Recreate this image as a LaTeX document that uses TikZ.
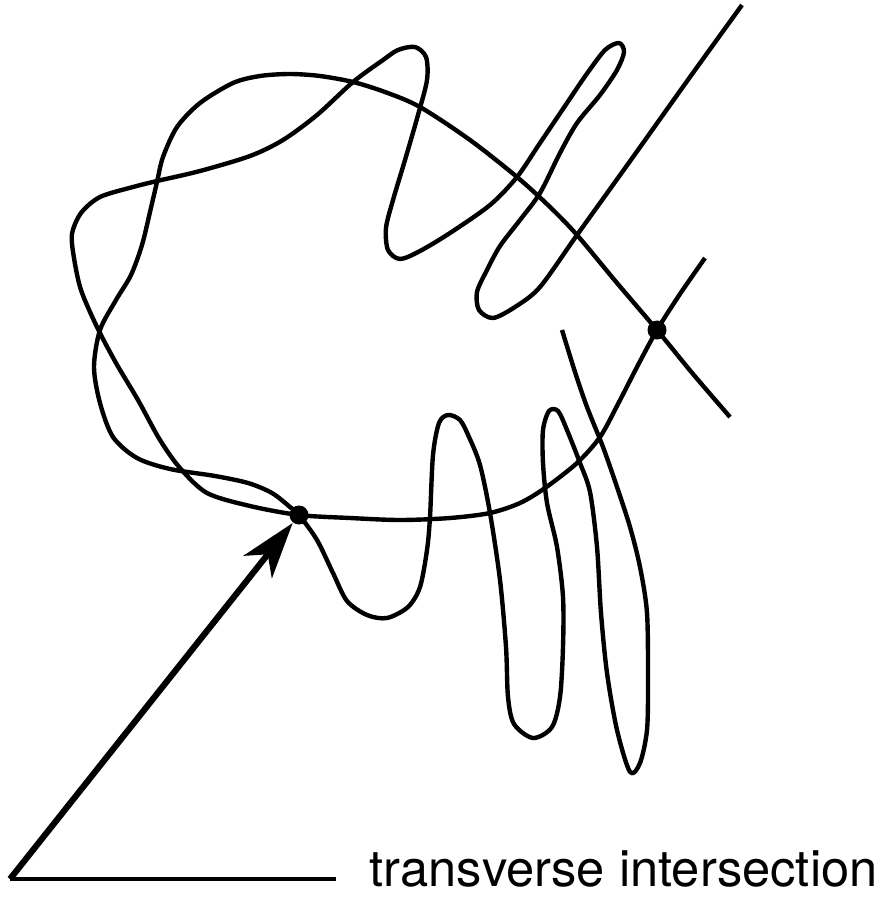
\documentclass[tikz,border=0pt]{standalone}
\usepackage{fontspec}
\setsansfont{TeX Gyre Heros}
\usepackage{tikz}
\usetikzlibrary{arrows.meta, positioning, calc}

\begin{document}
\begin{tikzpicture}[x=0.01cm, y=-0.01cm,
    curve/.style={line width=1.25pt, line join=round},
    dot/.style={circle, fill=black, inner sep=0pt, minimum size=0.19cm},
    pointer/.style={line width=1.75pt, -{Stealth[length=0.56cm, width=0.36cm, inset=0.16cm]}},
    caption/.style={font=\sffamily\fontsize{14.4pt}{17pt}\selectfont, inner sep=0pt}]
    \useasboundingbox (0,0) rectangle (876,909);

    % the two intersection points
    \node[dot] (left) at (299,515) {};
    \node[dot] (right) at (657,330) {};

    % smooth loop, ending in the long folds at the bottom
    \draw[curve] plot[smooth, tension=0.5] coordinates {
        (730,417) (693,374) (657,330) (617,283) (577,235) (550,207) (517,177)
        (470,140) (420,107) (385,92) (353,82) (320,76) (290,74) (260,76) (233,83)
        (200,103) (177,127) (163,157) (157,182) (150,212) (142,245) (131,275)
        (116,300) (100,330) (94,367) (100,403) (113,437) (137,458) (170,469)
        (215,476) (248,483) (272,493) (290,507) (299,515) (317,540) (333,573)
        (347,601) (367,615) (387,618) (408,607) (420,587) (427,550) (430,517)
        (433,455) (439,423) (448,415) (460,420) (469,437) (480,465) (490,513)
        (500,580) (506,647) (508,697) (514,724) (533,738) (552,727) (560,697)
        (563,647) (563,597) (557,547) (547,503) (543,463) (543,430) (549,411)
        (558,411) (567,430) (580,463) (590,492) (597,547) (601,613) (607,673)
        (617,730) (630,772) (640,763) (647,730) (648,680) (647,613) (640,567)
        (630,527) (617,487) (603,447) (587,407) (575,372) (562,330)};

    % long curve from the top right, with the two thin folds
    \draw[curve] plot[smooth, tension=0.5] coordinates {
        (742,5) (690,77) (633,157) (577,235) (540,287) (515,307) (493,318)
        (479,310) (477,292) (487,270) (500,246) (520,220) (540,193) (560,153)
        (577,123) (600,95) (617,70) (624,52) (619,43) (605,50) (586,75)
        (567,103) (540,143) (517,177) (490,205) (450,233) (420,251) (400,259)
        (388,250) (386,228) (393,200) (405,160) (418,115) (427,80) (426,57)
        (415,47) (398,50) (383,60) (353,82) (317,115) (283,140) (250,156)
        (200,171) (157,181) (133,187) (100,197) (81,213) (72,234) (74,258)
        (81,290) (97,327) (116,363) (138,400) (160,440) (180,468) (207,493)
        (250,506) (299,515) (350,518) (400,520) (450,518) (490,513) (520,503)
        (545,488) (577,463) (600,437) (618,404) (637,367) (657,330) (680,294)
        (705,258)};

    % label with its pointer
    \coordinate (corner) at (10,879);
    \node[caption, anchor=mid west] (lbl) at (369,879) {transverse intersection};
    \draw[line width=1.4pt] (corner) -- ($(lbl.mid west)+(-33,0)$);
    \draw[pointer] (corner) -- (left);
\end{tikzpicture}
\end{document}
